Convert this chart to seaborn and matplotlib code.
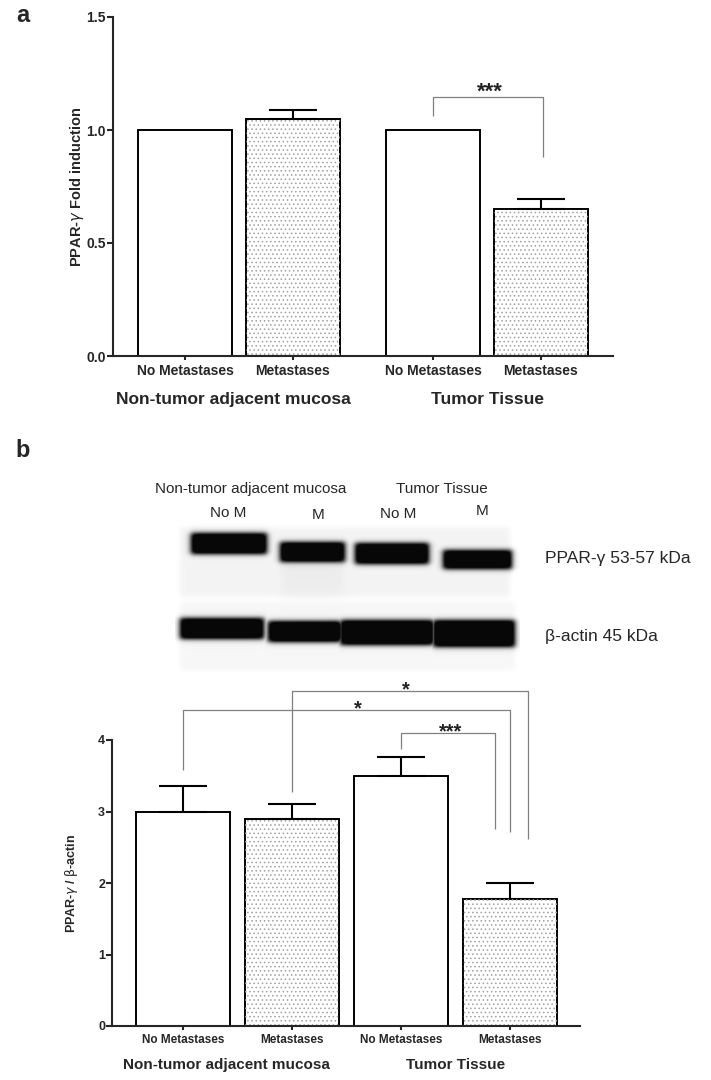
import numpy as np
import pandas as pd
import matplotlib
matplotlib.use("Agg")
import matplotlib.pyplot as plt
import matplotlib.transforms as mtransforms
from matplotlib.patches import Rectangle
import seaborn as sns

# values
group_names = ["Non-tumor adjacent mucosa", "Tumor Tissue"]
condition_labels = ["No Metastases", "Metastases", "No Metastases", "Metastases"]
is_metastasis = [False, True, False, True]

# panel a: PPAR-gamma fold induction (mean, SEM)
fold_mean = [1.00, 1.05, 1.00, 0.65]
fold_sem = [0.00, 0.04, 0.00, 0.045]
fold_yticks = [0.0, 0.5, 1.0, 1.5]

# panel b: PPAR-gamma / beta-actin densitometry (mean, SEM)
ratio_mean = [3.00, 2.90, 3.50, 1.78]
ratio_sem = [0.35, 0.21, 0.26, 0.22]
ratio_yticks = [0, 1, 2, 3, 4]

# western blot annotations
blot_groups = ["Non-tumor adjacent mucosa", "Tumor Tissue"]
blot_lanes = ["No M", "M", "No M", "M"]
blot_rows = ["PPAR-γ 53-57 kDa", "β-actin 45 kDa"]

# significance brackets: label, left bar, right bar, left leg end, top, right leg end
sig_a = [("***", 2, 3, 1.063, 1.148, 0.88)]
sig_b = [("*", 1, 3, 3.27, 4.69, 2.62),
         ("*", 0, 3, 3.58, 4.42, 2.71),
         ("***", 2, 3, 3.87, 4.10, 2.76)]

W, H = 711, 1080
BRACKET_GREY = "#808080"

sns.set_style("ticks")
plt.rcParams["font.family"] = ["Liberation Sans", "DejaVu Sans"]
plt.rcParams["mathtext.fontset"] = "dejavusans"
plt.rcParams["hatch.linewidth"] = 0.6


def px(x0, y0, x1=None, y1=None):
    """pixel box (from top-left) -> figure fraction"""
    if x1 is None:
        return x0 / W, 1 - y0 / H
    return [x0 / W, 1 - y1 / H, (x1 - x0) / W, (y1 - y0) / H]


def draw_bars(ax, xpos, means, sems, width):
    df = pd.DataFrame({"x": xpos, "value": means})
    sns.barplot(data=df, x="x", y="value", native_scale=True, width=width,
                color="white", saturation=1, edgecolor="black", linewidth=1.4,
                errorbar=None, ax=ax)
    for patch, hatched in zip(list(ax.patches), is_metastasis):
        if hatched:
            ax.add_patch(Rectangle((patch.get_x(), patch.get_y()), patch.get_width(),
                                   patch.get_height(), fill=False, hatch="....",
                                   edgecolor="#a0a0a0", linewidth=0, zorder=patch.get_zorder() + 0.1))
    for x, m, s in zip(xpos, means, sems):
        if s > 0:
            ax.errorbar([x], [m], yerr=[[0], [s]], fmt="none", ecolor="black",
                        elinewidth=1.5, capsize=17, capthick=1.5, zorder=1)


def draw_brackets(ax, xpos, specs, right_shift, text_x, fontsize, text_dy):
    for (label, i, j, left_low, top, right_low), dx, tx in zip(specs, right_shift, text_x):
        xl, xr = xpos[i], xpos[j] + dx
        ax.plot([xl, xl, xr, xr], [left_low, top, top, right_low], color=BRACKET_GREY,
                lw=0.9, clip_on=False, solid_capstyle="butt")
        ax.annotate(label, xy=(tx, top), xytext=(0, text_dy), textcoords="offset points",
                    ha="center", va="baseline", fontsize=fontsize, fontweight="bold",
                    color="#222222", annotation_clip=False)


def style_axis(ax, xpos, yticks, ylim, xlim, tick_fs, ytick_fmt):
    ax.set_xlim(*xlim)
    ax.set_ylim(*ylim)
    ax.set_xticks(xpos, condition_labels, fontsize=tick_fs, fontweight="bold")
    ax.set_yticks(yticks, [ytick_fmt.format(v) for v in yticks], fontweight="bold")
    ax.set_xlabel("")
    sns.despine(ax=ax)
    for side in ["left", "bottom"]:
        ax.spines[side].set_linewidth(1.5)
    ax.tick_params(axis="x", direction="out", length=3, width=1.5, pad=2.5)
    ax.tick_params(axis="y", direction="out", length=4, width=1.5, pad=1)


fig = plt.figure(figsize=(W / 100, H / 100), dpi=100)

# ---------------- panel a ----------------
ax_a = fig.add_axes(px(113, 17, 613, 356))
pos_a = np.arange(4) + np.repeat([0.0, 0.31], 2)
draw_bars(ax_a, pos_a, fold_mean, fold_sem, width=0.875)
style_axis(ax_a, pos_a, fold_yticks, (0, 1.5), (-0.67, 3.98), 10, "{:.1f}")
ax_a.tick_params(axis="y", labelsize=10)
ax_a.set_ylabel("PPAR-$\\gamma$ Fold induction", fontsize=10.5, fontweight="bold", va="center")
ax_a.yaxis.set_label_coords(-0.072, 0.5)
draw_brackets(ax_a, pos_a, sig_a, right_shift=[0.02], text_x=[2.84], fontsize=16, text_dy=-0.5)
trans_a = mtransforms.blended_transform_factory(ax_a.transData, ax_a.transAxes)
for name, gx in zip(group_names, [0.45, 2.81]):
    ax_a.text(gx, -0.127, name, transform=trans_a, ha="center", va="center",
              fontsize=12.5, fontweight="bold")

# ---------------- panel b: blot ----------------
ax_blot = fig.add_axes(px(175, 520, 520, 675))
xs = np.arange(175, 520) + 0.5
ys = np.arange(520, 675) + 0.5
X, Y = np.meshgrid(xs, ys)


def box(v, lo, hi, soft):
    return 0.5 * (np.tanh((v - lo) / soft) - np.tanh((v - hi) / soft))


membrane = 1 - 0.045 * box(X, 180, 510, 3) * box(Y, 527, 597, 3) \
             - 0.035 * box(X, 180, 515, 3) * box(Y, 602, 670, 3) \
             - 0.03 * box(X, 282, 343, 5) * box(Y, 556, 597, 8)
ppar_bands = [(191, 267, 533, 554), (280, 345, 542, 562), (355, 429, 543, 564), (443, 512, 550, 569)]
actin_bands = [(180, 264, 618, 639), (268, 342, 621, 642), (340, 434, 620, 645), (433, 515, 620, 647)]
ink = np.zeros_like(X)
for x0, x1, y0, y1 in ppar_bands + actin_bands:
    ink = np.maximum(ink, box(X, x0, x1, 3.5) * box(Y, y0, y1, 2.8))
blot = membrane * (1 - 0.97 * np.clip(ink * 1.3, 0, 1))
ax_blot.imshow(blot, cmap="gray", vmin=0, vmax=1, extent=(175, 520, 675, 520),
               aspect="auto", interpolation="bilinear")
ax_blot.set_axis_off()

for name, (cx, cy) in zip(blot_groups, [(251, 489), (442, 489)]):
    fig.text(*px(cx, cy), name, ha="center", va="center", fontsize=11)
for name, (cx, cy) in zip(blot_lanes, [(228, 513), (318, 515), (398, 514), (482, 511)]):
    fig.text(*px(cx, cy), name, ha="center", va="center", fontsize=11)
for name, (lx, cy) in zip(blot_rows, [(545, 558), (545, 637)]):
    fig.text(*px(lx, cy), name, ha="left", va="center", fontsize=12.5)

# ---------------- panel b: densitometry ----------------
ax_b = fig.add_axes(px(112, 740, 580, 1026))
pos_b = np.arange(4).astype(float)
draw_bars(ax_b, pos_b, ratio_mean, ratio_sem, width=0.86)
style_axis(ax_b, pos_b, ratio_yticks, (0, 4), (-0.65, 3.64), 8.5, "{:d}")
ax_b.tick_params(axis="y", labelsize=9)
ax_b.set_ylabel("PPAR-$\\gamma$ / $\\mathrm{\\beta}$-actin", fontsize=9, fontweight="bold", va="center")
ax_b.yaxis.set_label_coords(-0.0855, 0.5)
draw_brackets(ax_b, pos_b, sig_b, right_shift=[0.165, 0.0, -0.14],
              text_x=[2.04, 1.6, 2.45], fontsize=14.5, text_dy=-3.5)
trans_b = mtransforms.blended_transform_factory(ax_b.transData, ax_b.transAxes)
for name, gx in zip(group_names, [0.40, 2.50]):
    ax_b.text(gx, -0.136, name, transform=trans_b, ha="center", va="center",
              fontsize=11, fontweight="bold")

# panel letters
fig.text(*px(23, 15), "a", ha="center", va="center", fontsize=17, fontweight="bold")
fig.text(*px(23, 451), "b", ha="center", va="center", fontsize=17, fontweight="bold")

fig.savefig("out.png", dpi=100, facecolor="white")
